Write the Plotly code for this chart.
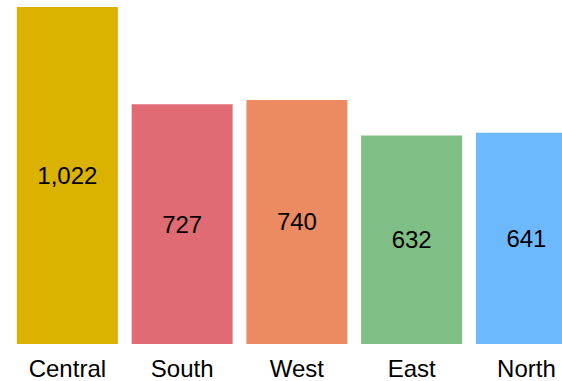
import plotly.graph_objects as go

regions = ["Central", "South", "West", "East", "North"]
sales = [1022, 727, 740, 632, 641]
colors = ["#DBB200", "#E06B75", "#EC8A62", "#7FBF85", "#6DB9FF"]

fig = go.Figure(go.Bar(
    x=regions,
    y=sales,
    marker=dict(color=colors, line=dict(width=0)),
    text=[f"{v:,}" for v in sales],
    textposition="inside",
    insidetextanchor="middle",
    textfont=dict(size=24, color="black", family="Liberation Sans, Arial"),
))

fig.update_layout(
    width=562, height=381,
    margin=dict(l=10, r=0, t=7, b=37),
    paper_bgcolor="white", plot_bgcolor="white",
    bargap=0.12,
    showlegend=False,
    font=dict(family="Liberation Sans, Arial", size=24, color="black"),
    xaxis=dict(range=[-0.5, 4.31], showgrid=False, showline=False,
               ticks="", ticklabelstandoff=8,
               tickfont=dict(size=24, color="black")),
    yaxis=dict(range=[0, 1022], visible=False),
    uniformtext=dict(minsize=24, mode="show"),
)

fig.write_html("out.html", config={"displayModeBar": False},
               post_script="document.body.style.margin='0px';")
